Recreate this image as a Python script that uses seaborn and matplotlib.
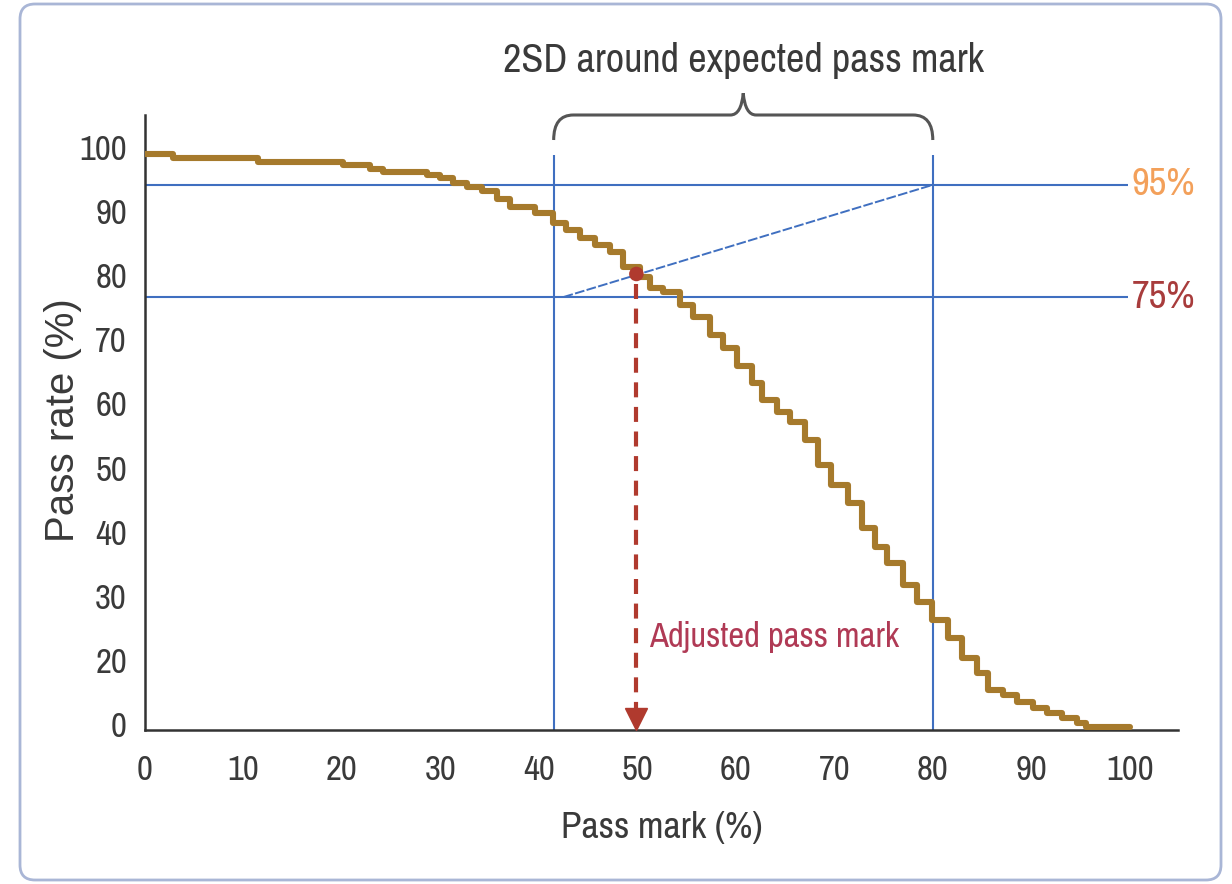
import numpy as np
import pandas as pd
import matplotlib
matplotlib.use("Agg")
import matplotlib.pyplot as plt
import seaborn as sns
from matplotlib import font_manager as fm
from matplotlib.path import Path
from matplotlib.patches import PathPatch, FancyBboxPatch

# ---------------- data ----------------
pass_mark = [0.0, 2.8, 11.5, 20.1, 22.8, 24.2, 28.6, 30.0, 31.3, 32.7,
             34.2, 35.7, 37.1, 39.6, 41.4, 42.8, 44.2, 45.7, 47.2, 48.5,
             50.3, 51.3, 52.6, 54.3, 55.6, 57.4, 58.7, 60.1, 61.6, 62.7,
             64.2, 65.5, 67.0, 68.3, 69.7, 71.4, 72.8, 74.1, 75.4, 77.0,
             78.4, 79.9, 81.5, 83.0, 84.5, 85.6, 87.1, 88.6, 90.2, 91.6,
             93.1, 94.6, 95.6, 100.0]
pass_rate = [98.9, 98.3, 97.7, 97.2, 96.6, 96.1, 95.6, 95.2, 94.4, 93.8,
             93.1, 91.9, 90.6, 89.7, 88.1, 87.1, 85.8, 84.7, 83.6, 81.3,
             79.7, 78.0, 77.4, 75.4, 73.5, 70.7, 68.7, 65.8, 63.2, 60.5,
             58.7, 57.1, 54.3, 50.4, 47.3, 44.5, 40.6, 37.6, 35.1, 31.7,
             29.0, 26.2, 23.4, 20.3, 18.0, 15.3, 14.5, 13.4, 12.5, 11.7,
             10.9, 10.1, 9.5, 9.5]

x_ticks = [0, 10, 20, 30, 40, 50, 60, 70, 80, 90, 100]
y_tick_pos = [10, 20, 30, 40, 50, 60, 70, 80, 90, 100]
y_tick_labels = ["0", "20", "30", "40", "50", "60", "70", "80", "90", "100"]

sd_low, sd_high = 41.5, 80.0          # 2SD band around expected pass mark
line_95, line_75 = 94.1, 76.6         # horizontal reference levels
diag_start_x = 42.5
adjusted_mark, adjusted_rate = 49.9, 80.2
band_top = 98.8

# ---------------- style ----------------
sns.set_theme(style="white")
names = sorted({f.name for f in fm.fontManager.ttflist})
cond = [n for n in names if ("Narrow" in n or "Condensed" in n)]
if cond:
    base = cond[0]
    k = 1.0
else:
    base = "Liberation Sans"
    k = 0.84
plt.rcParams["font.family"] = [base, "DejaVu Sans"]

TEXT = "#3a3a3a"
BLUE = "#3f6fc0"
GOLD = "#a67a2c"
RED = "#b03a2e"

fig = plt.figure(figsize=(12.32, 8.84), dpi=100)
ax = fig.add_axes([145 / 1232, 154 / 884, 1033 / 1232, 615 / 884])

df = pd.DataFrame({"mark": pass_mark, "rate": pass_rate})
sns.lineplot(data=df, x="mark", y="rate", drawstyle="steps-post", color=GOLD,
             linewidth=4.4, estimator=None, sort=False, legend=False, ax=ax,
             zorder=3)

# reference lines
ax.hlines([line_95, line_75], 0, 99.8, color=BLUE, lw=1.5, zorder=2)
ax.vlines([sd_low, sd_high], 9.05, band_top, color=BLUE, lw=1.5, zorder=2)
ax.plot([diag_start_x, sd_high], [line_75, line_95], color=BLUE, lw=1.4,
        ls=(0, (5, 1.2)), zorder=2)

ax.text(100.2, line_95, "95%", color="#f3a05a", fontsize=28 * k, va="center", ha="left")
ax.text(100.2, line_75, "75%", color="#a83c3c", fontsize=28 * k, va="center", ha="left")

# adjusted pass mark
ax.plot([adjusted_mark, adjusted_mark], [adjusted_rate - 1.5, 12.0], color=RED,
        lw=3, dashes=(3.6, 2.3), zorder=4)
ax.plot([adjusted_mark], [10.8], marker="v", markersize=16, color=RED,
        clip_on=False, zorder=5)
ax.scatter([adjusted_mark], [adjusted_rate], s=110, color=RED, zorder=6,
           edgecolor="none")
ax.text(adjusted_mark + 1.3, 23.6, "Adjusted pass mark", color="#b03a55",
        fontsize=25 * k, va="center", ha="left")

# brace + title
xm = (sd_low + sd_high) / 2
y_end, y_h, y_tip = 101.1, 105.0, 108.4
r, t = 2.0, 1.3
verts = [(sd_low, y_end), (sd_low, y_h), (sd_low + r, y_h),
         (xm - t, y_h),
         (xm - 0.2, y_h), (xm, y_tip),
         (xm + 0.2, y_h), (xm + t, y_h),
         (sd_high - r, y_h),
         (sd_high, y_h), (sd_high, y_end)]
codes = [Path.MOVETO, Path.CURVE3, Path.CURVE3, Path.LINETO,
         Path.CURVE3, Path.CURVE3, Path.CURVE3, Path.CURVE3,
         Path.LINETO, Path.CURVE3, Path.CURVE3]
ax.add_patch(PathPatch(Path(verts, codes), facecolor="none", edgecolor="#555555",
                       lw=2.2, clip_on=False))
ax.text(xm, 111.7, "2SD around expected pass mark", color=TEXT, fontsize=29 * k,
        ha="center", va="baseline", clip_on=False)

# axes
ax.set_xlim(0, 104.9)
ax.set_ylim(9.05, 105)
ax.set_xticks(x_ticks)
ax.set_xticklabels([str(v) for v in x_ticks])
ax.set_yticks(y_tick_pos)
ax.set_yticklabels(y_tick_labels)
ax.tick_params(axis="both", length=0, labelsize=25 * k, colors=TEXT)
ax.tick_params(axis="x", pad=17)
ax.tick_params(axis="y", pad=13)
for s in ["top", "right"]:
    ax.spines[s].set_visible(False)
for s in ["left", "bottom"]:
    ax.spines[s].set_color("#333333")
    ax.spines[s].set_linewidth(1.8)

ax.set_xlabel("Pass mark (%)", fontsize=27 * k, color=TEXT)
ax.xaxis.label.set_va("center")
ax.xaxis.set_label_coords(0.5, -0.158)
ax.set_ylabel("Pass rate (%)", fontsize=29, color=TEXT, family=["Liberation Sans", "DejaVu Sans"])
ax.yaxis.label.set_va("center")
ax.yaxis.set_label_coords(-0.0794, 0.504)

# rounded frame around the figure
fig.patches.append(FancyBboxPatch((0.20, 0.04), 12.01, 8.76,
                                  boxstyle="round,pad=0,rounding_size=0.15",
                                  transform=fig.dpi_scale_trans,
                                  facecolor="none", edgecolor="#a9b6d6", lw=2))

fig.savefig("out.png", dpi=100)
